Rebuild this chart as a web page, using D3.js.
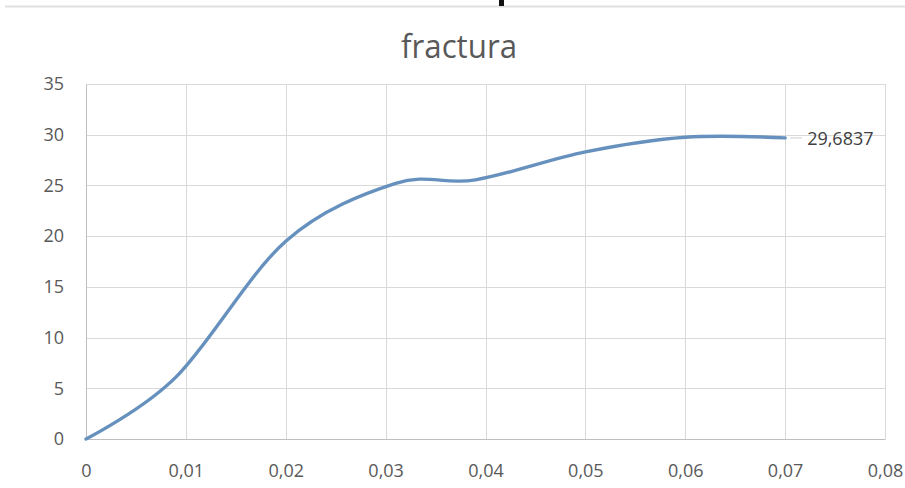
<!DOCTYPE html>
<html><head><meta charset="utf-8">
<script src="https://cdn.jsdelivr.net/npm/d3@7"></script>
<style>body{margin:0;background:#fff}svg{display:block}</style>
</head><body>
<svg id="c" width="905" height="488"></svg>
<script>
const title = "fractura";
const xValues = [0, 0.009, 0.02, 0.031, 0.039, 0.05, 0.06, 0.07];
const yValues = [0, 6.1, 19.5, 25.2, 25.55, 28.3, 29.75, 29.6837];
const xTicks = [0, 0.01, 0.02, 0.03, 0.04, 0.05, 0.06, 0.07, 0.08];
const yTicks = [0, 5, 10, 15, 20, 25, 30, 35];
const lastLabel = "29,6837";

const svg = d3.select("#c");
const L = 86, R = 885, T = 84, B = 439;
const x = d3.scaleLinear().domain([0, 0.08]).range([L, R]);
const y = d3.scaleLinear().domain([0, 35]).range([B, T]);
const font = "'Open Sans', 'Noto Sans', sans-serif";
const txt = "#595959";

// top artifacts
svg.append("line").attr("x1", 5).attr("x2", 905).attr("y1", 6.5).attr("y2", 6.5).attr("stroke", "#e0e0e0").attr("stroke-width", 2);
svg.append("rect").attr("x", 499).attr("y", 0).attr("width", 5).attr("height", 6).attr("fill", "#111");

// grid
svg.append("g").selectAll("line").data(yTicks).join("line")
  .attr("x1", L).attr("x2", R).attr("y1", d => Math.round(y(d)) + 0.5).attr("y2", d => Math.round(y(d)) + 0.5)
  .attr("stroke", "#d9d9d9").attr("stroke-width", 1);
svg.append("g").selectAll("line").data(xTicks).join("line")
  .attr("x1", d => Math.round(x(d)) + 0.5).attr("x2", d => Math.round(x(d)) + 0.5).attr("y1", T).attr("y2", B)
  .attr("stroke", "#d9d9d9").attr("stroke-width", 1);

// axes
const fmt = d => d3.format("")(d).replace(".", ",");
const yAxis = svg.append("g").attr("transform", `translate(${L},0)`)
  .call(d3.axisLeft(y).tickValues(yTicks).tickSize(0).tickPadding(22).tickFormat(d => d));
yAxis.select(".domain").attr("stroke", "#bfbfbf");
yAxis.selectAll("text").attr("font-family", font).attr("font-size", 18).attr("fill", txt);
const xAxis = svg.append("g").attr("transform", `translate(0,${B})`)
  .call(d3.axisBottom(x).tickValues(xTicks).tickSize(0).tickPadding(25).tickFormat(fmt));
xAxis.select(".domain").attr("stroke", "#bfbfbf");
xAxis.selectAll("text").attr("font-family", font).attr("font-size", 18).attr("fill", txt);

// line
const pts = xValues.map((v, i) => [v, yValues[i]]);
const line = d3.line().x(d => x(d[0])).y(d => y(d[1])).curve(d3.curveCatmullRom.alpha(0));
svg.append("path").attr("d", line(pts)).attr("fill", "none")
  .attr("stroke", "#6690bd").attr("stroke-width", 3.4).attr("stroke-linecap", "round");

// data label
const lx = x(xValues[xValues.length - 1]), ly = y(yValues[yValues.length - 1]);
svg.append("line").attr("x1", lx + 5).attr("x2", lx + 17).attr("y1", ly).attr("y2", ly).attr("stroke", "#d0d0d0");
svg.append("text").attr("x", lx + 22).attr("y", ly + 7).attr("font-family", font).attr("font-size", 18)
  .attr("fill", "#404040").text(lastLabel);

// title
svg.append("text").attr("x", 459).attr("y", 58).attr("text-anchor", "middle")
  .attr("font-family", font).attr("font-size", 33).attr("fill", txt)
  .attr("textLength", 116).attr("lengthAdjust", "spacingAndGlyphs").text(title);
</script>
</body></html>
